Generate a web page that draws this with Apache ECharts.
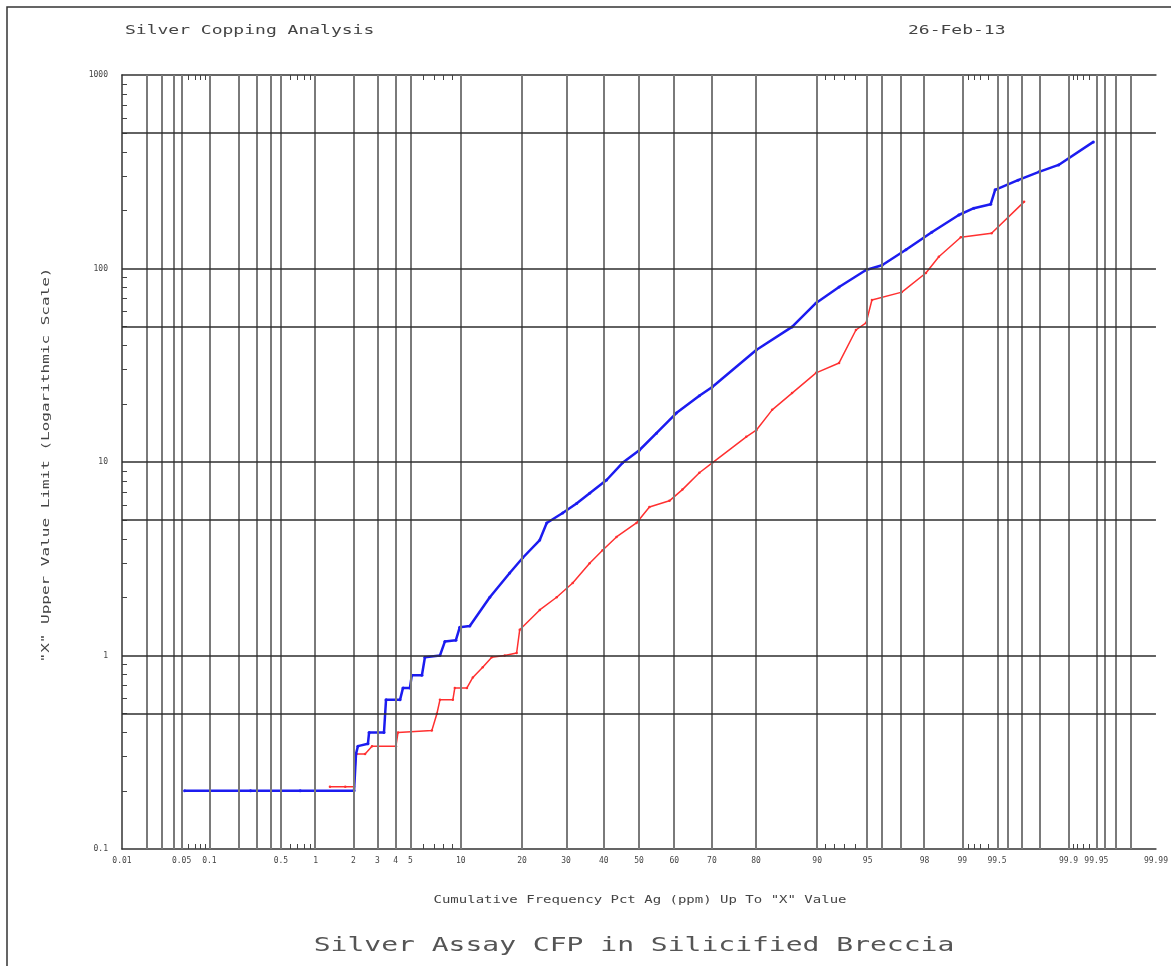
<!DOCTYPE html>
<html>
<head>
<meta charset="utf-8">
<title>Silver Assay CFP in Silicified Breccia</title>
<script src="https://cdn.jsdelivr.net/npm/echarts@6/dist/echarts.min.js"></script>
<style>
  html, body { margin: 0; padding: 0; background: #fff; }
  #chart { width: 1171px; height: 966px; }
</style>
</head>
<body>
<div id="chart"></div>
<script>
// Cumulative frequency (percent) and upper value limit (ppm Ag) for each sample set
const bluePct = [0.054, 0.26, 0.74, 2.02, 2.09, 2.16, 2.56, 2.61, 3.33, 3.44, 4.28, 4.48, 4.97, 5.11, 5.92, 6.18, 7.61, 8.13, 9.39, 9.87, 11.18, 14.16, 17.62, 20.16, 23.77, 25.34, 29.15, 32.67, 36.13, 40.79, 45.3, 50.1, 55.0, 60.6, 66.8, 70.1, 80.06, 86.46, 89.87, 92.5, 94.88, 95.98, 97.26, 98.24, 98.93, 99.2, 99.43, 99.48, 99.68, 99.8, 99.873, 99.946];
const blueVal = [0.2, 0.2, 0.2, 0.2, 0.31, 0.34, 0.35, 0.40, 0.40, 0.59, 0.59, 0.68, 0.68, 0.79, 0.79, 0.98, 1.0, 1.18, 1.2, 1.4, 1.42, 2.0, 2.67, 3.2, 3.95, 4.84, 5.45, 6.1, 6.9, 8.07, 9.9, 11.5, 14.1, 17.9, 22.0, 24.4, 37.9, 49.9, 66.4, 80.2, 98.2, 104, 125, 154, 189, 205, 215, 255, 286, 316, 343, 451];

const redPct = [1.31, 1.73, 2.02, 2.09, 2.44, 2.74, 4.02, 4.15, 6.81, 7.3, 7.61, 9.03, 9.26, 10.79, 11.6, 13.05, 14.48, 16.7, 18.94, 19.55, 23.77, 27.69, 31.67, 36.13, 39.67, 43.57, 49.28, 53.0, 58.67, 62.26, 66.8, 70.1, 77.99, 80.06, 83.1, 86.46, 89.87, 92.5, 94.07, 94.88, 95.31, 97.07, 98.05, 98.45, 98.97, 99.44, 99.72];
const redVal = [0.21, 0.21, 0.21, 0.31, 0.31, 0.34, 0.34, 0.40, 0.41, 0.50, 0.59, 0.59, 0.68, 0.68, 0.77, 0.87, 0.98, 1.0, 1.03, 1.36, 1.72, 2.0, 2.37, 3.0, 3.5, 4.1, 4.84, 5.85, 6.3, 7.2, 8.8, 9.9, 13.5, 14.6, 18.6, 22.7, 28.9, 32.5, 48.1, 52.3, 68.7, 75.5, 94.8, 115, 145, 152, 221];

// Probability-axis ticks, labels and rulings (percent)
const xLabelPct = ['0.01', '0.05', '0.1', '0.5', '1', '2', '3', '4', '5', '10', '20', '30', '40', '50', '60', '70', '80', '90', '95', '98', '99', '99.5', '99.9', '99.95', '99.99'];
const xGridPct = [0.02, 0.03, 0.04, 0.05, 0.1, 0.2, 0.3, 0.4, 0.5, 1, 2, 3, 4, 5, 10, 20, 30, 40, 50, 60, 70, 80, 90, 95, 96, 97, 98, 99, 99.5, 99.6, 99.7, 99.8, 99.9, 99.95, 99.96, 99.97, 99.98];
const xMinorPct = [0.06, 0.07, 0.08, 0.09, 0.6, 0.7, 0.8, 0.9, 6, 7, 8, 9, 91, 92, 93, 94, 99.1, 99.2, 99.3, 99.4, 99.91, 99.92, 99.93, 99.94];

// Log value axis ticks, labels and rulings
const yLabelVals = [0.1, 1, 10, 100, 1000];
const yLabelText = ['0.1', '1', '10', '100', '1000'];
const yGridVals = [0.5, 1, 5, 10, 50, 100, 500];
const yMinorVals = [0.2, 0.3, 0.4, 0.5, 0.6, 0.7, 0.8, 0.9, 2, 3, 4, 5, 6, 7, 8, 9, 20, 30, 40, 50, 60, 70, 80, 90, 200, 300, 400, 500, 600, 700, 800, 900];

// Inverse standard normal CDF (Acklam's rational approximation)
function probit(p) {
  const a = [-3.969683028665376e+01, 2.209460984245205e+02, -2.759285104469687e+02, 1.383577518672690e+02, -3.066479806614716e+01, 2.506628277459239e+00];
  const b = [-5.447609879822406e+01, 1.615858368580409e+02, -1.556989798598866e+02, 6.680131188771972e+01, -1.328068155288572e+01];
  const c = [-7.784894002430293e-03, -3.223964580411365e-01, -2.400758277161838e+00, -2.549732539343734e+00, 4.374664141464968e+00, 2.938163982698783e+00];
  const d = [7.784695709041462e-03, 3.224671290700398e-01, 2.445134137142996e+00, 3.754408661907416e+00];
  const pl = 0.02425, ph = 1 - pl;
  let q, r;
  if (p < pl) {
    q = Math.sqrt(-2 * Math.log(p));
    return (((((c[0] * q + c[1]) * q + c[2]) * q + c[3]) * q + c[4]) * q + c[5]) /
      ((((d[0] * q + d[1]) * q + d[2]) * q + d[3]) * q + 1);
  }
  if (p <= ph) {
    q = p - 0.5; r = q * q;
    return (((((a[0] * r + a[1]) * r + a[2]) * r + a[3]) * r + a[4]) * r + a[5]) * q /
      (((((b[0] * r + b[1]) * r + b[2]) * r + b[3]) * r + b[4]) * r + 1);
  }
  q = Math.sqrt(-2 * Math.log(1 - p));
  return -(((((c[0] * q + c[1]) * q + c[2]) * q + c[3]) * q + c[4]) * q + c[5]) /
    ((((d[0] * q + d[1]) * q + d[2]) * q + d[3]) * q + 1);
}
const z = pct => probit(pct / 100);

const xMin = z(0.01), xMax = z(99.99);
const labelByKey = {};
xLabelPct.forEach(s => { labelByKey[z(parseFloat(s)).toFixed(6)] = s; });
const xLabelVals = xLabelPct.map(s => z(parseFloat(s)));
const xTickVals = xGridPct.concat(xMinorPct).map(z);

const blueData = bluePct.map((p, i) => [z(p), blueVal[i]]);
const redData = redPct.map((p, i) => [z(p), redVal[i]]);

const mono = 'DejaVu Sans Mono';
const vLine = { color: '#7a7a7a', width: 2, type: 'solid' };
const hLine = { color: '#2e2e2e', width: 1.5, type: 'solid' };

const chart = echarts.init(document.getElementById('chart'), null, { renderer: 'canvas' });
chart.setOption({
  animation: false,
  backgroundColor: '#fff',
  grid: { left: 122, right: 13, top: 75, bottom: 117 },
  xAxis: [{
    type: 'value', position: 'bottom', min: xMin, max: xMax,
    axisLine: { show: true, onZero: false, lineStyle: { color: '#333', width: 1.5 } },
    axisTick: { show: true, inside: true, length: 5, customValues: xTickVals, lineStyle: { color: '#444' } },
    axisLabel: {
      show: true, customValues: xLabelVals, margin: 8,
      fontFamily: mono, fontSize: 8, color: '#444',
      formatter: v => labelByKey[v.toFixed(6)] || ''
    },
    splitLine: { show: false }
  }, {
    type: 'value', position: 'top', min: xMin, max: xMax,
    axisLine: { show: true, onZero: false, lineStyle: { color: '#333', width: 1.5 } },
    axisTick: { show: true, inside: true, length: 5, customValues: xTickVals, lineStyle: { color: '#444' } },
    axisLabel: { show: false },
    splitLine: { show: false }
  }],
  yAxis: {
    type: 'log', logBase: 10, min: 0.1, max: 1000, position: 'left',
    axisLine: { show: true, onZero: false, lineStyle: { color: '#333', width: 1.5 } },
    axisTick: { show: true, inside: true, length: 5, customValues: yMinorVals, lineStyle: { color: '#444' } },
    axisLabel: {
      show: true, customValues: yLabelVals, margin: 14,
      fontFamily: mono, fontSize: 8, color: '#444',
      formatter: v => {
        const i = yLabelVals.findIndex(t => Math.abs(Math.log10(t) - Math.log10(v)) < 1e-6);
        return i >= 0 ? yLabelText[i] : '';
      }
    },
    splitLine: { show: false }
  },
  series: [{
    // probability and value rulings
    type: 'line', data: [], z: 1, silent: true,
    markLine: {
      silent: true, symbol: ['none', 'none'], label: { show: false }, animation: false,
      data: xGridPct.concat([99.99]).map(p => ({ xAxis: z(p), lineStyle: vLine }))
        .concat(yGridVals.map(v => ({ yAxis: v, lineStyle: hLine })))
    }
  }, {
    type: 'line', name: 'Red', data: redData, z: 3,
    symbol: 'circle', symbolSize: 2.5, showAllSymbol: true,
    itemStyle: { color: '#ff3030' },
    lineStyle: { color: '#ff3030', width: 1.5 }
  }, {
    type: 'line', name: 'Blue', data: blueData, z: 4,
    symbol: 'circle', symbolSize: 3, showAllSymbol: true,
    itemStyle: { color: '#1c1cf0' },
    lineStyle: { color: '#1c1cf0', width: 2.5 }
  }],
  graphic: [
    { type: 'rect', silent: true, z: 0, shape: { x: 7, y: 7, width: 1200, height: 1000 },
      style: { fill: 'none', stroke: '#333', lineWidth: 1.5 } },
    { type: 'text', x: 125, y: 31, scaleX: 1.5, style: { text: 'Silver Copping Analysis', font: '12px "DejaVu Sans Mono"', fill: '#444', textAlign: 'left', textVerticalAlign: 'middle' } },
    { type: 'text', x: 908, y: 31, scaleX: 1.5, style: { text: '26-Feb-13', font: '12px "DejaVu Sans Mono"', fill: '#444', textAlign: 'left', textVerticalAlign: 'middle' } },
    { type: 'text', x: 640, y: 900, scaleX: 1.4, style: { text: 'Cumulative Frequency Pct Ag (ppm) Up To "X" Value', font: '10px "DejaVu Sans Mono"', fill: '#444', textAlign: 'center', textVerticalAlign: 'middle' } },
    { type: 'text', x: 634, y: 946, scaleX: 1.4, style: { text: 'Silver Assay CFP in Silicified Breccia', font: '20px "DejaVu Sans Mono"', fill: '#555', textAlign: 'center', textVerticalAlign: 'middle' } },
    { type: 'text', x: 46, y: 465, rotation: Math.PI / 2, scaleX: 1.6, style: { text: '"X" Upper Value Limit (Logarithmic Scale)', font: '10px "DejaVu Sans Mono"', fill: '#444', textAlign: 'center', textVerticalAlign: 'middle' } }
  ]
});
</script>
</body>
</html>
